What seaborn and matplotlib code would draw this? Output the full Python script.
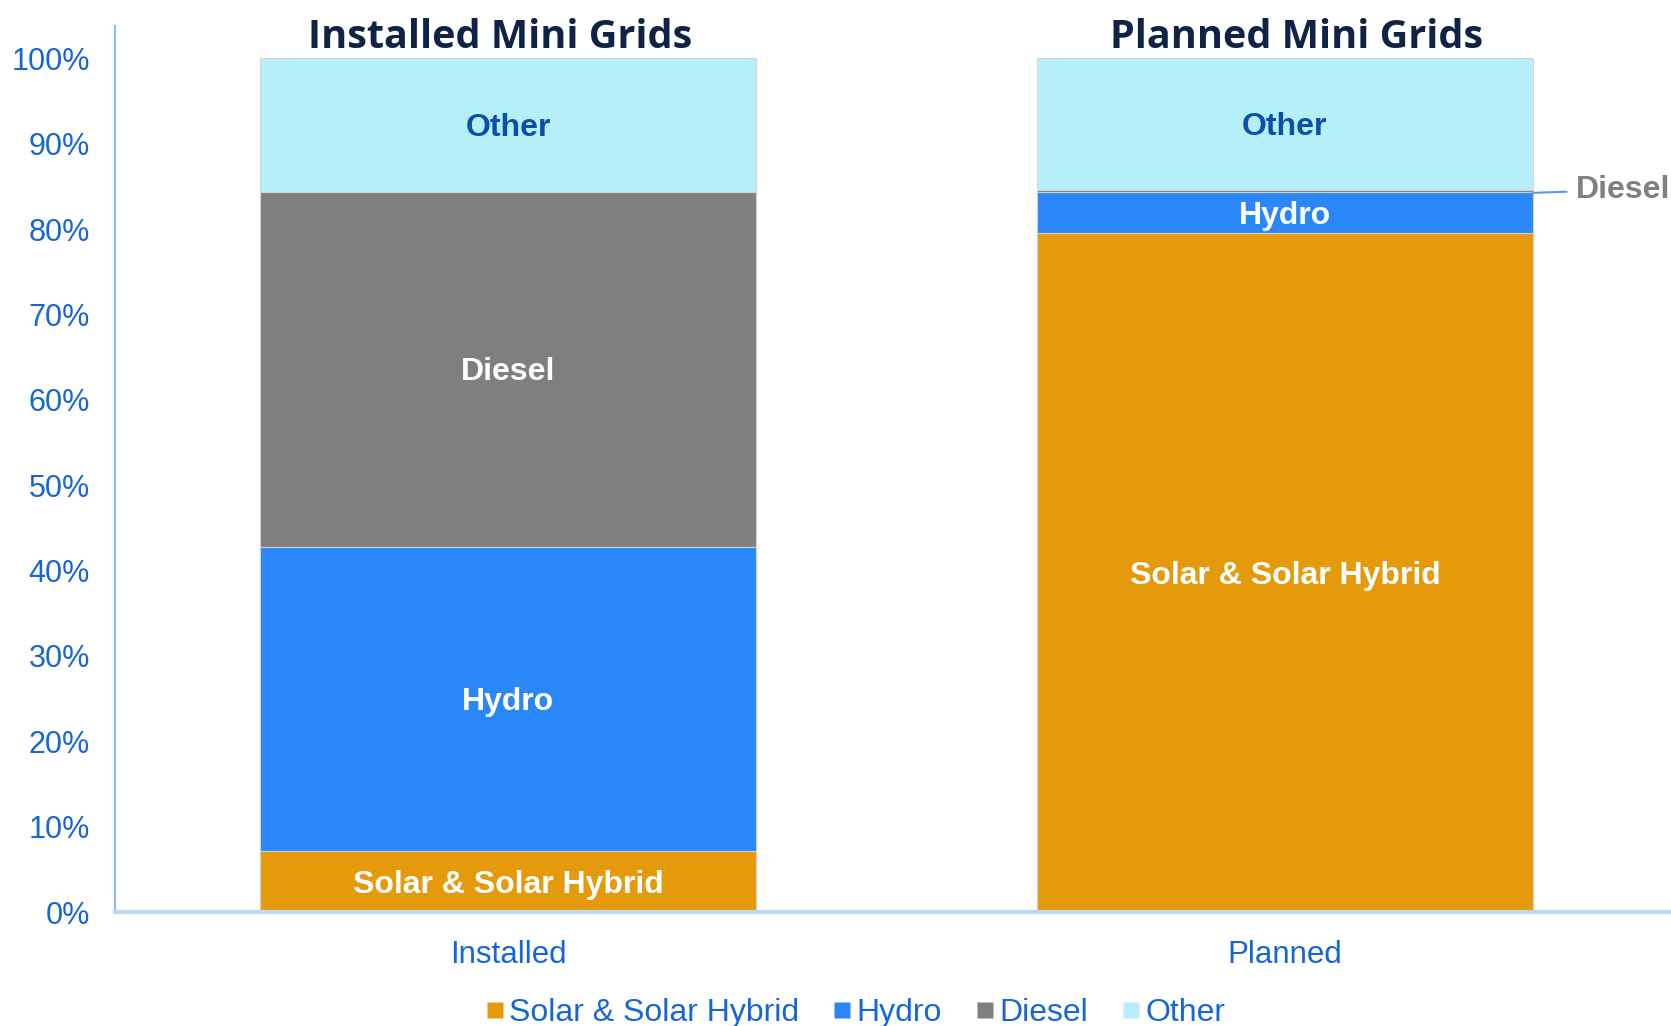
import pandas as pd
import seaborn as sns
import matplotlib.pyplot as plt
from matplotlib.lines import Line2D

sns.set_style("white")
plt.rcParams["font.family"] = ["Liberation Sans", "DejaVu Sans"]

categories = ["Installed", "Planned"]
sources = ["Solar & Solar Hybrid", "Hydro", "Diesel", "Other"]
solar = [7.1, 79.5]
hydro = [35.7, 4.8]
diesel = [41.6, 0.3]
other = [15.6, 15.4]
titles = ["Installed Mini Grids", "Planned Mini Grids"]

colors = {"Solar & Solar Hybrid": "#E59A0B", "Hydro": "#2A87F8",
          "Diesel": "#7F7F7F", "Other": "#B6EFF7"}
label_colors = {"Solar & Solar Hybrid": "white", "Hydro": "white",
                "Diesel": "white", "Other": "#0A4FAA"}
TICK_BLUE = "#1766D6"

df = pd.DataFrame({"category": categories, "Solar & Solar Hybrid": solar,
                   "Hydro": hydro, "Diesel": diesel, "Other": other})
cum = df[sources].cumsum(axis=1)
cum["category"] = df["category"]

fig = plt.figure(figsize=(16.71, 10.26), dpi=100)
ax = fig.add_axes([0.0688, 0.1111, 0.9312, 0.8636])

# layered bars: tallest first so the stack shows through
for src in reversed(sources):
    sns.barplot(data=cum, x="category", y=src, color=colors[src], width=0.638,
                saturation=1, edgecolor="#D4D4D4", linewidth=0.8, ax=ax)

# segment labels
for i, cat in enumerate(categories):
    base = 0
    for src in sources:
        val = df.loc[i, src]
        if val > 2:
            ax.text(i, base + val / 2 - 0.35, src, ha="center", va="center",
                    fontsize=23, fontweight="bold", color=label_colors[src])
        base += val

# callout for the thin diesel slice in the planned bar
d_mid = solar[1] + hydro[1] + diesel[1] / 2
ax.annotate("Diesel", xy=(1.319, d_mid - 0.2), xytext=(1.374, d_mid + 0.15),
            ha="left", va="center", fontsize=23, fontweight="bold", color="#808080",
            arrowprops=dict(arrowstyle="-", color="#5B9BE6", lw=1.5,
                            shrinkA=4, shrinkB=0))

for i, t in enumerate(titles):
    ax.text(i + (-0.01 if i == 0 else 0.015), 102.5, t, ha="center", va="center",
            fontsize=28.5, fontweight="bold", color="#0F2346", family="Open Sans")

ax.set_xlim(-0.506, 1.497)
ax.set_ylim(0, 103.8)
ax.set_yticks(range(0, 101, 10))
ax.set_yticklabels([f"{v}%" for v in range(0, 101, 10)])
ax.set_xlabel("")
ax.set_ylabel("")
ax.tick_params(axis="y", length=0, pad=18, labelsize=22, labelcolor=TICK_BLUE)
ax.tick_params(axis="x", length=0, pad=20, labelsize=22.5, labelcolor=TICK_BLUE)

for s in ["top", "right"]:
    ax.spines[s].set_visible(False)
ax.spines["left"].set_color("#8DBBF5")
ax.spines["left"].set_linewidth(1.5)
ax.spines["bottom"].set_color("#BFD7F4")
ax.spines["bottom"].set_linewidth(3)

handles = [Line2D([], [], marker="s", linestyle="", markersize=12,
                  markerfacecolor=colors[s], markeredgecolor="none") for s in sources]
leg = fig.legend(handles, sources, loc="center", bbox_to_anchor=(0.511, 0.0125), ncol=4,
                 frameon=False, fontsize=23, handletextpad=0.05, columnspacing=0.95,
                 handlelength=0.8)
for t in leg.get_texts():
    t.set_color(TICK_BLUE)

fig.savefig("out.png", dpi=100)
